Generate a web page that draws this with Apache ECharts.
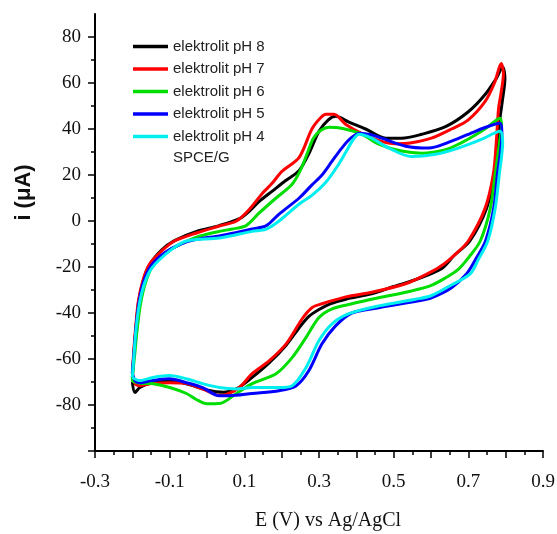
<!DOCTYPE html>
<html>
    <head>
        <meta charset="utf-8">
        <script src="https://cdn.jsdelivr.net/npm/echarts@6/dist/echarts.min.js"></script>
    </head>
    <body>
        <style>
            html, body, #main {
                width: 100%;
                height: 100%;
                margin: 0;
                background: #fff;
            }
        </style>
        <div id="main"></div>
        <script>

            var seriesNames = ['elektrolit pH 8', 'elektrolit pH 7', 'elektrolit pH 6', 'elektrolit pH 5', 'elektrolit pH 4'];
            var seriesColors = ['#000000', '#ff0000', '#00dd00', '#0000ff', '#00eeee'];

            var xLabelValues = [-0.3, -0.1, 0.1, 0.3, 0.5, 0.7, 0.9];
            var yLabelValues = [-80, -60, -40, -20, 0, 20, 40, 60, 80];
            var yMajorTicks = [-100, -80, -60, -40, -20, 0, 20, 40, 60, 80];
            var yMinorTicks = [-90, -70, -50, -30, -10, 10, 30, 50, 70];

            // [E (V), i (uA)] - forward scan then reverse scan
            var ph8 = [
                [-0.200, -68], [-0.195, -56], [-0.190, -46], [-0.183, -35], [-0.171, -26], [-0.154, -19],
                [-0.121, -12.5], [-0.087, -8.5], [-0.028, -4.5], [0.033, -2], [0.087, 1], [0.115, 4.5],
                [0.140, 8.5], [0.175, 13], [0.210, 17.5], [0.247, 22], [0.275, 30], [0.300, 39],
                [0.325, 44], [0.345, 45.5], [0.380, 43], [0.425, 40], [0.479, 36], [0.521, 36],
                [0.575, 37.7], [0.639, 41], [0.700, 47.5], [0.745, 55], [0.775, 62], [0.792, 67],
                [0.798, 62], [0.791, 52], [0.785, 45], [0.779, 35], [0.770, 20.4], [0.749, 5.6],
                [0.704, -8.7], [0.662, -15], [0.630, -20.5], [0.567, -25], [0.500, -28.5], [0.441, -31.7],
                [0.372, -34], [0.330, -36], [0.300, -38.5], [0.273, -41.5], [0.247, -46.4], [0.212, -54],
                [0.167, -61.6], [0.121, -68], [0.079, -73], [0.045, -74.5], [0.000, -73.5], [-0.050, -71],
                [-0.100, -69.4], [-0.148, -70.3], [-0.180, -72.4], [-0.193, -74.6], [-0.200, -70]
            ];
            var ph7 = [
                [-0.200, -66], [-0.196, -56], [-0.191, -46], [-0.184, -35], [-0.172, -26], [-0.155, -19],
                [-0.121, -13], [-0.087, -8.7], [-0.028, -5.2], [0.033, -2.2], [0.079, 0], [0.113, 5],
                [0.148, 12], [0.175, 16.5], [0.200, 21.5], [0.247, 27.7], [0.281, 40], [0.305, 45],
                [0.319, 46.4], [0.340, 46.4], [0.372, 42], [0.415, 38], [0.460, 35], [0.505, 33.6],
                [0.548, 34], [0.601, 36], [0.655, 40], [0.700, 44], [0.745, 52], [0.770, 60], [0.788, 68.5],
                [0.794, 64], [0.787, 55], [0.781, 49], [0.775, 34.7], [0.767, 20.4], [0.745, 5.6],
                [0.700, -8.7], [0.665, -14.5], [0.628, -19.5], [0.590, -23], [0.532, -27.3], [0.441, -31],
                [0.372, -33], [0.308, -36], [0.281, -37.7], [0.255, -42.5], [0.212, -53.4], [0.167, -60.7],
                [0.121, -66.4], [0.087, -72.4], [0.050, -75.5], [0.033, -75.8], [-0.012, -73], [-0.055, -70.7],
                [-0.100, -70.3], [-0.148, -70.7], [-0.180, -71.6], [-0.193, -70.7], [-0.200, -66]
            ];
            var ph6 = [
                [-0.200, -68], [-0.193, -57], [-0.187, -47], [-0.178, -36], [-0.165, -27], [-0.147, -20],
                [-0.113, -14], [-0.070, -10], [-0.028, -7], [0.033, -4.5], [0.068, -3.5], [0.105, -2],
                [0.140, 3.5], [0.185, 10], [0.228, 16], [0.250, 22], [0.270, 30], [0.285, 36],
                [0.305, 39.5], [0.327, 40.8], [0.361, 40.3], [0.415, 37.7], [0.460, 33.4], [0.521, 30.4],
                [0.575, 29.5], [0.639, 31], [0.681, 34], [0.720, 37.5], [0.753, 41], [0.785, 44.7],
                [0.789, 41], [0.784, 34.7], [0.772, 20.4], [0.759, 5.6], [0.732, -8.7], [0.700, -16],
                [0.673, -21], [0.639, -24.7], [0.601, -28], [0.548, -30.4], [0.460, -33.4], [0.388, -36],
                [0.335, -38.2], [0.300, -42], [0.265, -50.7], [0.228, -59.4], [0.185, -66.4], [0.121, -70.7],
                [0.079, -75], [0.033, -79.4], [0.000, -79.5], [-0.030, -77.5], [-0.055, -75], [-0.100, -72.4],
                [-0.148, -70.7], [-0.180, -70.5], [-0.200, -69.4], [-0.200, -68]
            ];
            var ph5 = [
                [-0.200, -66], [-0.195, -56], [-0.190, -46], [-0.182, -35], [-0.169, -26], [-0.150, -19.5],
                [-0.115, -14], [-0.070, -10], [-0.028, -8], [0.033, -6.5], [0.080, -5], [0.121, -3.5],
                [0.159, -2], [0.193, 3], [0.247, 10], [0.280, 15.5], [0.308, 20], [0.335, 26],
                [0.361, 31.7], [0.385, 36], [0.410, 38.2], [0.440, 37.5], [0.468, 36], [0.532, 32.5],
                [0.593, 31.7], [0.655, 34.7], [0.719, 39], [0.760, 41.5], [0.785, 42.5],
                [0.790, 38], [0.786, 30], [0.778, 20.4], [0.768, 5.6], [0.746, -8.7], [0.720, -16.5],
                [0.695, -23], [0.655, -29], [0.601, -33.4], [0.567, -34.7], [0.460, -37.7], [0.388, -40],
                [0.345, -45.5], [0.308, -53.4], [0.273, -65], [0.239, -71.6], [0.193, -73.8], [0.121, -75],
                [0.060, -76], [0.033, -76], [-0.012, -72.4], [-0.055, -70.3], [-0.100, -68.6], [-0.148, -69.4],
                [-0.180, -70.3], [-0.193, -69.4], [-0.200, -66]
            ];
            var ph4 = [
                [-0.200, -68], [-0.195, -57], [-0.190, -47], [-0.181, -36], [-0.167, -27], [-0.148, -20.5],
                [-0.100, -13], [-0.055, -8.7], [0.033, -7.4], [0.121, -4.5], [0.159, -3.5], [0.193, 0],
                [0.247, 7.4], [0.280, 11], [0.319, 17], [0.350, 24], [0.372, 30], [0.390, 35],
                [0.407, 37.7], [0.441, 36], [0.487, 31.7], [0.548, 28], [0.612, 29], [0.673, 31.7],
                [0.735, 35.5], [0.785, 39],
                [0.792, 34], [0.789, 28], [0.783, 20.4], [0.772, 5.6], [0.752, -8.7], [0.726, -17],
                [0.705, -23], [0.647, -28.5], [0.600, -32.5], [0.559, -34], [0.460, -36.9], [0.380, -40.3],
                [0.335, -44.7], [0.300, -52], [0.265, -63.8], [0.228, -71.6], [0.193, -72.4], [0.121, -72.4],
                [0.079, -73], [0.033, -72.4], [-0.012, -70.7], [-0.055, -68.6], [-0.100, -67.2], [-0.145, -68],
                [-0.180, -69.4], [-0.200, -68]
            ];
            var seriesData = [ph8, ph7, ph6, ph5, ph4];

            var chart = echarts.init(document.getElementById('main'));

            var series = seriesNames.map(function (name, i) {
                return {
                    name: name,
                    type: 'line',
                    data: seriesData[i],
                    symbol: 'none',
                    smooth: 0.3,
                    lineStyle: { color: seriesColors[i], width: 3 },
                    itemStyle: { color: seriesColors[i] }
                };
            });

            chart.setOption({
                animation: false,
                backgroundColor: '#fff',
                legend: {
                    left: 133,
                    top: 39,
                    padding: 0,
                    orient: 'vertical',
                    icon: 'rect',
                    itemWidth: 35,
                    itemHeight: 3.5,
                    itemGap: 7.5,
                    data: seriesNames,
                    textStyle: {
                        fontFamily: 'Liberation Sans',
                        fontSize: 15,
                        lineHeight: 14,
                        color: '#222'
                    }
                },
                graphic: [{
                    type: 'text',
                    left: 173,
                    top: 150,
                    style: {
                        text: 'SPCE/G',
                        font: '15px "Liberation Sans"',
                        fill: '#222'
                    }
                }],
                grid: {
                    left: 95,
                    right: 14,
                    top: 14,
                    bottom: 83,
                    outerBoundsMode: 'none'
                },
                xAxis: {
                    type: 'value',
                    min: -0.3,
                    max: 0.9,
                    interval: 0.1,
                    name: 'E (V) vs Ag/AgCl',
                    nameLocation: 'middle',
                    nameGap: 60,
                    nameTextStyle: {
                        fontFamily: 'Liberation Serif',
                        fontSize: 20,
                        color: '#111',
                        padding: [0, 0, 0, 18]
                    },
                    axisLine: { onZero: false, lineStyle: { color: '#000', width: 2 } },
                    axisTick: { length: 7, lineStyle: { color: '#000', width: 1.5 } },
                    minorTick: { show: true, splitNumber: 2, length: 4, lineStyle: { color: '#000', width: 1.5 } },
                    axisLabel: {
                        customValues: xLabelValues,
                        margin: 22,
                        fontFamily: 'Liberation Serif',
                        fontSize: 19,
                        color: '#111',
                        formatter: function (v) { return v.toFixed(1); }
                    },
                    splitLine: { show: false }
                },
                yAxis: [{
                    type: 'value',
                    min: -100,
                    max: 90,
                    interval: 20,
                    name: 'i (\u03bcA)',
                    nameLocation: 'middle',
                    nameGap: 60,
                    nameTextStyle: {
                        fontFamily: 'Liberation Sans',
                        fontWeight: 'bold',
                        fontSize: 22,
                        color: '#111',
                        padding: [0, 0, 0, 80]
                    },
                    axisLine: { show: true, onZero: false, lineStyle: { color: '#000', width: 2 } },
                    axisTick: { customValues: yMajorTicks, length: 7, lineStyle: { color: '#000', width: 1.5 } },
                    axisLabel: {
                        customValues: yLabelValues,
                        margin: 14,
                        fontFamily: 'Liberation Serif',
                        fontSize: 19,
                        color: '#111'
                    },
                    splitLine: { show: false }
                }, {
                    type: 'value',
                    position: 'left',
                    min: -100,
                    max: 90,
                    interval: 20,
                    axisLine: { show: false, onZero: false },
                    axisTick: { customValues: yMinorTicks, length: 4, lineStyle: { color: '#000', width: 1.5 } },
                    axisLabel: { show: false },
                    splitLine: { show: false }
                }],
                series: series
            });

        </script>
    </body>
</html>
